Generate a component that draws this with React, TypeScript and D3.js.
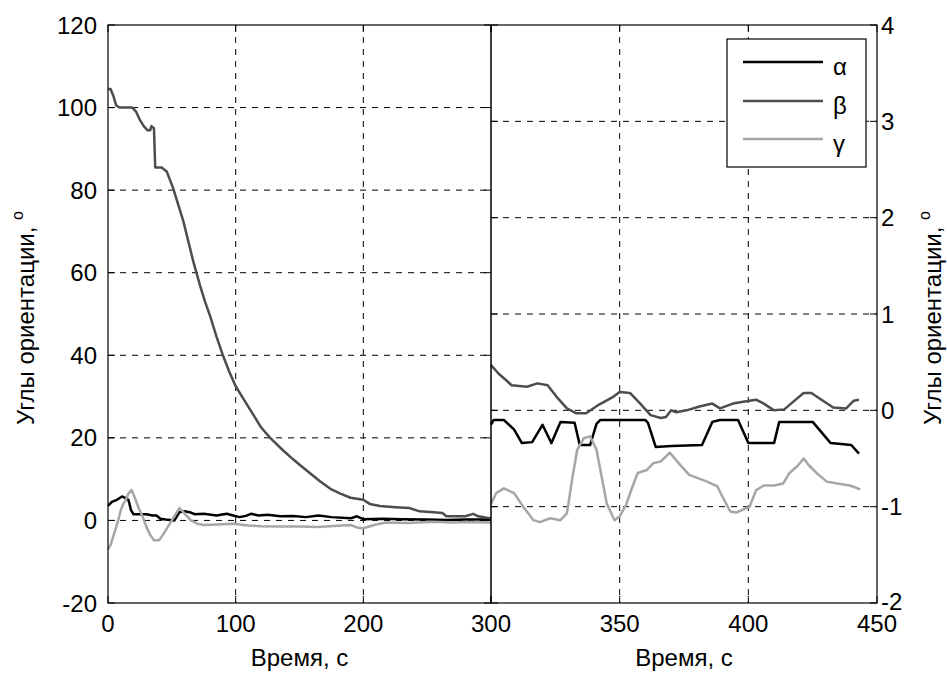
import React from "react";
import * as d3 from "d3";

type P = [number, number];

// Left panel (0–300 s, degrees -20..120)
const leftXTicks = [0, 100, 200, 300];
const leftYTicks = [-20, 0, 20, 40, 60, 80, 100, 120];
// Right panel (300–450 s, degrees -2..4)
const rightXTicks = [300, 350, 400, 450];
const rightYTicks = [-2, -1, 0, 1, 2, 3, 4];

const seriesNames = ["α", "β", "γ"];
const seriesColors = ["#000000", "#4d4d4d", "#a6a6a6"];

const alphaLeft: P[] = [[0,3.5],[3,4.5],[7,5],[11,5.8],[13,5.5],[16,5],[18,2.5],[20,1.5],[26,1.5],[30,1.5],[35,1.2],[38,1.2],[41,0.4],[45,0.2],[52,0],[56,2],[60,2.2],[64,2],[68,1.5],[75,1.6],[85,1.2],[93,1.6],[98,1.2],[103,0.8],[108,1.1],[112,1.6],[118,1.2],[125,1.4],[135,1.0],[145,1.1],[155,0.8],[165,1.2],[175,0.8],[190,0.5],[195,1],[200,0.3],[215,0.4],[230,0.3],[250,0.2],[265,0.1],[280,0.2],[300,0.2]];
const betaLeft: P[] = [[0,104.5],[2,104.5],[4,103],[6.5,100.5],[9,100],[19,100],[22,99],[25,97],[28,95.5],[31,94.5],[33,94.5],[34,95.5],[36,95],[37,85.5],[42,85.5],[46,84.5],[51,80.5],[55,76.5],[59,72.5],[63,67.5],[67,62.5],[72,57],[76,53],[80,49.5],[85,44.5],[90,40],[95,36],[100,32.5],[105,30],[109,28],[115,25],[120,22.5],[127,20],[137,17],[145,14.8],[152,13],[160,11],[166,9.5],[175,7.5],[182,6.5],[190,5.5],[200,5],[205,4],[213,3.5],[225,3.2],[236,3],[244,2.2],[255,2],[262,1.8],[265,1],[280,1],[286,1.6],[290,1],[300,0.5]];
const gammaLeft: P[] = [[0,-7],[2,-6],[4,-4],[6,-2],[8,0],[10,2.5],[12,4],[14,5],[16,6.5],[18.5,7.4],[21,5.5],[24,3],[27,1],[30,-1.5],[33,-3.5],[36,-4.8],[40,-4.8],[43,-3.5],[47,-1.5],[50,0],[53,1.5],[56,3],[59,2],[62,1],[65,0],[70,-0.8],[75,-1.1],[85,-1],[98,-0.8],[110,-1.2],[120,-1.4],[135,-1.5],[150,-1.5],[165,-1.6],[180,-1.3],[190,-1.1],[196,-1.8],[200,-1.9],[210,-1],[218,-0.5],[235,-0.6],[255,-0.3],[270,-0.5],[285,-0.4],[300,-0.5]];

const alphaRight: P[] = [[300,-0.15],[301,-0.1],[305,-0.1],[309,-0.2],[312,-0.34],[316,-0.33],[320,-0.15],[323.5,-0.34],[327,-0.12],[332.5,-0.13],[334.5,-0.36],[338.5,-0.36],[341,-0.14],[342.5,-0.1],[360,-0.1],[361,-0.13],[364,-0.38],[370,-0.37],[382,-0.36],[386,-0.12],[389,-0.1],[396,-0.1],[400,-0.34],[410,-0.34],[412,-0.12],[425,-0.12],[432,-0.34],[440,-0.36],[443,-0.45]];
const betaRight: P[] = [[300,0.47],[303,0.38],[306,0.31],[308,0.26],[314,0.245],[318,0.28],[322,0.26],[325.5,0.14],[329.5,0.02],[333,-0.03],[337,-0.03],[342,0.06],[347.5,0.14],[350,0.19],[354,0.18],[358,0.07],[362,-0.05],[366,-0.08],[368,-0.07],[370,0],[372,-0.02],[376,0],[381,0.04],[386,0.07],[389,0.02],[394,0.07],[398,0.09],[403,0.11],[406,0.07],[410,0],[414,0.01],[417.5,0.09],[421.5,0.18],[424.5,0.18],[429,0.1],[433,0.03],[438,0.02],[441,0.1],[443,0.11]];
const gammaRight: P[] = [[300,-0.97],[302,-0.86],[305,-0.81],[309,-0.86],[312.5,-1.0],[316.5,-1.14],[319,-1.16],[323,-1.12],[327,-1.14],[329.5,-1.07],[331.5,-0.72],[333.5,-0.41],[336,-0.29],[338.5,-0.27],[341,-0.41],[343,-0.69],[345,-0.97],[348,-1.14],[350,-1.1],[352.5,-0.98],[355,-0.79],[357,-0.65],[360.5,-0.62],[363,-0.55],[366,-0.53],[369.5,-0.44],[373,-0.55],[377,-0.67],[384,-0.74],[388,-0.79],[390,-0.9],[393,-1.05],[395.5,-1.06],[400.5,-1.0],[403,-0.83],[406,-0.78],[410,-0.78],[413.5,-0.76],[416,-0.65],[419,-0.58],[421.5,-0.5],[423.5,-0.57],[426.5,-0.65],[430.5,-0.74],[434.5,-0.76],[439.5,-0.78],[443.5,-0.82]];

const xLabel = "Время, с";
const yLabel = "Углы ориентации, ";

const W = 947, H = 675;
const L = 108, M = 491, R = 877, T = 25, B = 603;
const FONT = "'Liberation Sans', Arial, sans-serif";
const FS = 24;
const TICK = 7;

export default function App() {
  const xL = d3.scaleLinear().domain([0, 300]).range([L, M]);
  const xR = d3.scaleLinear().domain([300, 450]).range([M, R]);
  const yL = d3.scaleLinear().domain([-20, 120]).range([B, T]);
  const yR = d3.scaleLinear().domain([-2, 4]).range([B, T]);

  const lineL = d3.line<P>().x(d => xL(d[0])).y(d => yL(d[1]));
  const lineR = d3.line<P>().x(d => xR(d[0])).y(d => yR(d[1]));

  const leftSeries = [alphaLeft, betaLeft, gammaLeft];
  const rightSeries = [alphaRight, betaRight, gammaRight];

  const dash = "6,6";
  const grid: React.ReactNode[] = [];
  leftXTicks.slice(1, -1).forEach(t => grid.push(<line key={"glx" + t} x1={xL(t)} x2={xL(t)} y1={T} y2={B} stroke="#000" strokeDasharray={dash} />));
  leftYTicks.slice(1, -1).forEach(t => grid.push(<line key={"gly" + t} x1={L} x2={M} y1={yL(t)} y2={yL(t)} stroke="#000" strokeDasharray={dash} />));
  rightXTicks.slice(1, -1).forEach(t => grid.push(<line key={"grx" + t} x1={xR(t)} x2={xR(t)} y1={T} y2={B} stroke="#000" strokeDasharray={dash} />));
  rightYTicks.slice(1, -1).forEach(t => grid.push(<line key={"gry" + t} x1={M} x2={R} y1={yR(t)} y2={yR(t)} stroke="#000" strokeDasharray={dash} />));

  const ticks: React.ReactNode[] = [];
  leftXTicks.forEach(t => {
    ticks.push(<line key={"tlxb" + t} x1={xL(t)} x2={xL(t)} y1={B} y2={B - TICK} stroke="#000" />);
    ticks.push(<line key={"tlxt" + t} x1={xL(t)} x2={xL(t)} y1={T} y2={T + TICK} stroke="#000" />);
  });
  leftYTicks.forEach(t => {
    ticks.push(<line key={"tlyl" + t} x1={L} x2={L + TICK} y1={yL(t)} y2={yL(t)} stroke="#000" />);
    ticks.push(<line key={"tlyr" + t} x1={M} x2={M - TICK} y1={yL(t)} y2={yL(t)} stroke="#000" />);
  });
  rightXTicks.forEach(t => {
    ticks.push(<line key={"trxb" + t} x1={xR(t)} x2={xR(t)} y1={B} y2={B - TICK} stroke="#000" />);
    ticks.push(<line key={"trxt" + t} x1={xR(t)} x2={xR(t)} y1={T} y2={T + TICK} stroke="#000" />);
  });
  rightYTicks.forEach(t => {
    ticks.push(<line key={"tryl" + t} x1={M} x2={M + TICK} y1={yR(t)} y2={yR(t)} stroke="#000" />);
    ticks.push(<line key={"tryr" + t} x1={R} x2={R - TICK} y1={yR(t)} y2={yR(t)} stroke="#000" />);
  });

  const xTickLabels: React.ReactNode[] = [];
  leftXTicks.forEach(t => xTickLabels.push(<text key={"lxl" + t} x={xL(t)} y={632} textAnchor="middle">{t}</text>));
  rightXTicks.slice(1).forEach(t => xTickLabels.push(<text key={"rxl" + t} x={xR(t)} y={632} textAnchor="middle">{t}</text>));

  const legendY = [62, 101, 139];

  return (
    <svg width={W} height={H} style={{ position: "absolute", left: 0, top: 0, background: "#fff" }} fontFamily={FONT} fontSize={FS}>
      <rect x={0} y={0} width={W} height={H} fill="#fff" />
      {grid}
      {leftSeries.map((s, i) => (
        <path key={"ls" + i} d={lineL(s) || ""} fill="none" stroke={seriesColors[i]} strokeWidth={2.5} strokeLinejoin="round" />
      ))}
      {rightSeries.map((s, i) => (
        <path key={"rs" + i} d={lineR(s) || ""} fill="none" stroke={seriesColors[i]} strokeWidth={2.5} strokeLinejoin="round" />
      ))}
      <rect x={L} y={T} width={R - L} height={B - T} fill="none" stroke="#000" strokeWidth={1.2} />
      <line x1={M} x2={M} y1={T} y2={B} stroke="#000" strokeWidth={1.5} />
      {ticks}
      {leftYTicks.map(t => (
        <text key={"lyl" + t} x={97} y={yL(t)} dy="0.36em" textAnchor="end">{t}</text>
      ))}
      {rightYTicks.map(t => (
        <text key={"ryl" + t} x={881} y={yR(t) - (t === -2 ? 2 : 0)} dy="0.36em" textAnchor="start">{t}</text>
      ))}
      {xTickLabels}
      <text x={(L + M) / 2} y={666} textAnchor="middle">{xLabel}</text>
      <text x={(M + R) / 2} y={666} textAnchor="middle">{xLabel}</text>
      <text transform="translate(34,318) rotate(-90)" textAnchor="middle">
        {yLabel}<tspan fontSize={16} dy={-11}>o</tspan>
      </text>
      <text transform="translate(941,318) rotate(-90)" textAnchor="middle">
        {yLabel}<tspan fontSize={16} dy={-11}>o</tspan>
      </text>
      <rect x={727} y={39} width={139} height={128} fill="#fff" stroke="#000" strokeWidth={1.2} />
      {seriesNames.map((n, i) => (
        <g key={"lg" + i}>
          <line x1={743} x2={823} y1={legendY[i]} y2={legendY[i]} stroke={seriesColors[i]} strokeWidth={2.5} />
          <text x={833} y={legendY[i] + 12.5}>{n}</text>
        </g>
      ))}
    </svg>
  );
}
